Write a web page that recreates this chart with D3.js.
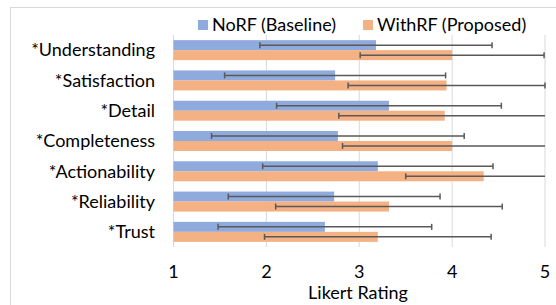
<!DOCTYPE html>
<html>
<head>
<meta charset="utf-8">
<script src="https://cdn.jsdelivr.net/npm/d3@7"></script>
<style>
  body { margin: 0; background: #fff; }
  svg { display: block; font-family: "Lato", "Open Sans", sans-serif; }
</style>
</head>
<body>
<svg id="chart" width="556" height="305"></svg>
<script>
const categories = ["*Understanding", "*Satisfaction", "*Detail", "*Completeness", "*Actionability", "*Reliability", "*Trust"];
const seriesNames = ["NoRF (Baseline)", "WithRF (Proposed)"];
const norfMean = [3.18, 2.74, 3.32, 2.77, 3.20, 2.73, 2.63];
const norfSd = [1.25, 1.19, 1.21, 1.36, 1.24, 1.14, 1.15];
const withrfMean = [4.00, 3.94, 3.92, 4.00, 4.34, 3.32, 3.20];
const withrfSd = [0.99, 1.06, 1.14, 1.18, 0.84, 1.22, 1.22];
const xTicks = [1, 2, 3, 4, 5];

const colors = ["#8faadc", "#f4b183"];
const fontSize = 18;
const svg = d3.select("#chart");

// outer frame
svg.append("rect")
  .attr("x", 10.5).attr("y", 7.5)
  .attr("width", 560).attr("height", 310)
  .attr("fill", "none").attr("stroke", "#d9d9d9");

const x = d3.scaleLinear().domain([1, 5]).range([173.5, 545]).clamp(true);
const y = d3.scaleBand().domain(categories).range([35, 247]);
const inner = d3.scaleBand().domain([0, 1]).range([0, 20]);
const groupOffset = (y.bandwidth() - 20) / 2;

// gridlines
svg.append("g").selectAll("line")
  .data(xTicks).join("line")
  .attr("x1", d => x(d)).attr("x2", d => x(d))
  .attr("y1", 35).attr("y2", 247)
  .attr("stroke", "#d9d9d9").attr("stroke-width", 1);

const series = [
  categories.map((c, i) => ({ c, mean: norfMean[i], sd: norfSd[i], s: 0 })),
  categories.map((c, i) => ({ c, mean: withrfMean[i], sd: withrfSd[i], s: 1 }))
];
const all = series.flat();

// bars
svg.append("g").selectAll("rect")
  .data(all).join("rect")
  .attr("x", x(1))
  .attr("y", d => y(d.c) + groupOffset + inner(d.s))
  .attr("width", d => x(d.mean) - x(1))
  .attr("height", inner.bandwidth())
  .attr("fill", d => colors[d.s]);

// error bars, clipped at the axis end (no cap when clipped)
const err = svg.append("g").attr("stroke", "#595959").attr("stroke-width", 1.5);
all.forEach(d => {
  const cy = y(d.c) + groupOffset + inner(d.s) + inner.bandwidth() / 2;
  const lo = d.mean - d.sd, hi = d.mean + d.sd;
  err.append("line").attr("x1", x(lo)).attr("x2", x(hi)).attr("y1", cy).attr("y2", cy);
  if (lo >= 1) err.append("line").attr("x1", x(lo)).attr("x2", x(lo)).attr("y1", cy - 3).attr("y2", cy + 3);
  if (hi <= 5) err.append("line").attr("x1", x(hi)).attr("x2", x(hi)).attr("y1", cy - 3).attr("y2", cy + 3);
});

// category labels
svg.append("g").selectAll("text")
  .data(categories).join("text")
  .attr("x", 155)
  .attr("y", d => y(d) + y.bandwidth() / 2)
  .attr("dy", "0.35em")
  .attr("text-anchor", "end")
  .attr("font-size", fontSize)
  .attr("fill", "#000")
  .text(d => d);

// x tick labels
svg.append("g").selectAll("text")
  .data(xTicks).join("text")
  .attr("x", d => x(d))
  .attr("y", 272)
  .attr("dy", "0.35em")
  .attr("text-anchor", "middle")
  .attr("font-size", fontSize)
  .text(d => d);

svg.append("text")
  .attr("x", 358).attr("y", 293).attr("dy", "0.35em")
  .attr("text-anchor", "middle")
  .attr("font-size", fontSize)
  .text("Likert Rating");

// legend
const legendX = [198, 363];
seriesNames.forEach((name, i) => {
  svg.append("rect")
    .attr("x", legendX[i]).attr("y", 20)
    .attr("width", 10).attr("height", 10)
    .attr("fill", colors[i]);
  svg.append("text")
    .attr("x", legendX[i] + 14).attr("y", 25).attr("dy", "0.35em")
    .attr("font-size", fontSize)
    .text(name);
});
</script>
</body>
</html>
